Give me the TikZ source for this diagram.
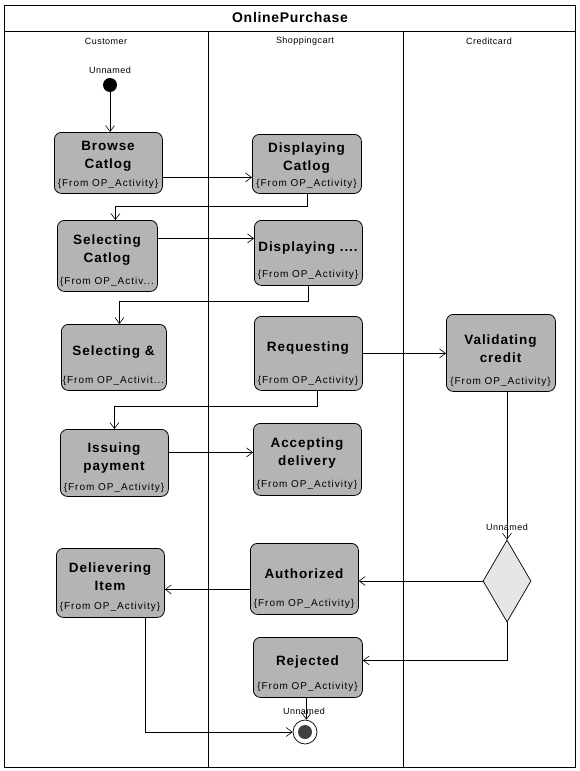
\documentclass[tikz,border=0pt]{standalone}
\usepackage{fontspec}
\setmainfont{Liberation Sans}
\newfontfamily\ttlfont[LetterSpace=7]{Liberation Sans}
\newfontfamily\frmfont[LetterSpace=10]{Liberation Sans}
\newfontfamily\smallfont[LetterSpace=5]{Liberation Sans}
\usetikzlibrary{arrows.meta,shapes.geometric}
\definecolor{actgray}{RGB}{180,180,180}
\definecolor{diagray}{RGB}{230,230,230}
\definecolor{finalgray}{RGB}{64,64,64}
\tikzset{
  act/.style={draw, fill=actgray, rounded corners=7pt, line width=0.8pt, anchor=north west, inner sep=0pt},
  ttl/.style={font=\ttlfont\fontsize{13.5}{18}\selectfont\bfseries, align=center, inner sep=0pt, yshift=-2pt},
  frm/.style={font=\frmfont\fontsize{10}{12}\selectfont, inner sep=0pt, yshift=-1pt},
  small/.style={font=\smallfont\fontsize{9}{11}\selectfont, inner sep=0pt},
  arr/.style={-{Straight Barb[length=6pt,width=9pt,line width=0.6pt]}, line width=0.7pt},
  frame/.style={line width=0.9pt}
}
\begin{document}
\begin{tikzpicture}[x=1pt,y=-1pt]
\useasboundingbox (0,0) rectangle (580,771);
% frame and lanes
\draw[frame] (4,5) rectangle (575,767);
\draw[frame] (4,31) -- (575,31);
\draw[frame] (208,31) -- (208,767);
\draw[frame] (403,31) -- (403,767);
\node[font=\smallfont\fontsize{14}{16}\selectfont\bfseries, inner sep=0pt] (title) at (290,17.5) {OnlinePurchase};
\node[small] (lane1) at (106,41) {Customer};
\node[small] (lane2) at (305,41) {Shoppingcart};
\node[small] (lane3) at (489,41) {Creditcard};

% initial
\node[circle, fill=black, minimum size=14pt, inner sep=0pt] (init) at (110,85) {};
\node[small] (initlbl) at (110,70) {Unnamed};

% activities
\node[act, minimum width=108pt, minimum height=61pt] (browse) at (54,132) {};
\node[ttl] (browseT) at (108,154.5) {Browse\\Catlog};
\node[frm] (browseF) at (108,183) {\{From OP\_Activity\}};

\node[act, minimum width=109pt, minimum height=59pt] (dispcat) at (252,134) {};
\node[ttl] (dispcatT) at (306.5,156) {Displaying\\Catlog};
\node[frm] (dispcatF) at (306.5,183) {\{From OP\_Activity\}};

\node[act, minimum width=100pt, minimum height=71pt] (selcat) at (57,220) {};
\node[ttl] (selcatT) at (107,248) {Selecting\\Catlog};
\node[frm] (selcatF) at (107,281) {\{From OP\_Activ...};

\node[act, minimum width=108pt, minimum height=65pt] (disp) at (254,220) {};
\node[ttl] (dispT) at (308,246) {Displaying ....};
\node[frm] (dispF) at (308,274) {\{From OP\_Activity\}};

\node[act, minimum width=105pt, minimum height=66pt] (selamp) at (61,324) {};
\node[ttl] (selampT) at (113.5,350) {Selecting \&};
\node[frm] (selampF) at (113.5,380) {\{From OP\_Activit...};

\node[act, minimum width=108pt, minimum height=74pt] (req) at (254,316) {};
\node[ttl] (reqT) at (308,346) {Requesting};
\node[frm] (reqF) at (308,380) {\{From OP\_Activity\}};

\node[act, minimum width=109pt, minimum height=77pt] (valid) at (446,314) {};
\node[ttl] (validT) at (500.5,346.5) {Validating\\credit};
\node[frm] (validF) at (500.5,381) {\{From OP\_Activity\}};

\node[act, minimum width=108pt, minimum height=67pt] (issue) at (60,429) {};
\node[ttl] (issueT) at (114,456) {Issuing\\payment};
\node[frm] (issueF) at (114,487) {\{From OP\_Activity\}};

\node[act, minimum width=108pt, minimum height=72pt] (accept) at (253,423) {};
\node[ttl] (acceptT) at (307,451) {Accepting\\delivery};
\node[frm] (acceptF) at (307,484) {\{From OP\_Activity\}};

\node[act, minimum width=108pt, minimum height=69pt] (deliv) at (56,548) {};
\node[ttl] (delivT) at (110,575) {Delievering\\Item};
\node[frm] (delivF) at (110,606) {\{From OP\_Activity\}};

\node[act, minimum width=108pt, minimum height=71pt] (auth) at (250,543) {};
\node[ttl] (authT) at (304,572) {Authorized};
\node[frm] (authF) at (304,603) {\{From OP\_Activity\}};

\node[act, minimum width=109pt, minimum height=60pt] (rej) at (253,637) {};
\node[ttl] (rejT) at (307.5,660) {Rejected};
\node[frm] (rejF) at (307.5,686) {\{From OP\_Activity\}};

% decision
\node[diamond, draw, fill=diagray, line width=0.7pt, minimum width=48pt, minimum height=82pt, inner sep=0pt] (dia) at (507,581) {};
\node[small] (dialbl) at (507,527) {Unnamed};

% final
\node[circle, draw, fill=white, line width=0.7pt, minimum size=24pt, inner sep=0pt] (fin) at (305,732) {};
\node[circle, fill=finalgray, minimum size=14pt, inner sep=0pt] (fininner) at (fin.center) {};
\node[small] (finlbl) at (304,711) {Unnamed};

% connectors
\draw[arr] (init) -- (browse.north -| init);
\draw[arr] ([yshift=-14.5pt]browse.east) -- ([yshift=-14.5pt]browse.east -| dispcat.west);
\draw[arr] (dispcat.south) -- ++(0,13) -| ([xshift=8pt]selcat.north);
\draw[arr] ([yshift=17.5pt]selcat.east) -- ([yshift=17.5pt]selcat.east -| disp.west);
\draw[arr] (disp.south) -- ++(0,16) -| ([xshift=5.5pt]selamp.north);
\draw[arr] (req.east) -- (req.east -| valid.west);
\draw[arr] ([xshift=9pt]req.south) -- ++(0,16) -| (issue.north);
\draw[arr] ([yshift=10.5pt]issue.east) -- ([yshift=10.5pt]issue.east -| accept.west);
\draw[arr] (valid.south -| dia.north) -- (dia.north);
\draw[arr] (dia.west) -- (dia.west -| auth.east);
\draw[arr] ([yshift=-10.5pt]auth.west) -- ([yshift=-10.5pt]auth.west -| deliv.east);
\draw[arr] (dia.south) |- ([yshift=7pt]rej.east);
\draw[arr] ([xshift=-1.5pt]rej.south) -- ([xshift=-1.5pt]rej.south |- fin.north);
\draw[arr] ([xshift=35pt]deliv.south) |- (fin.west);
\end{tikzpicture}
\end{document}
